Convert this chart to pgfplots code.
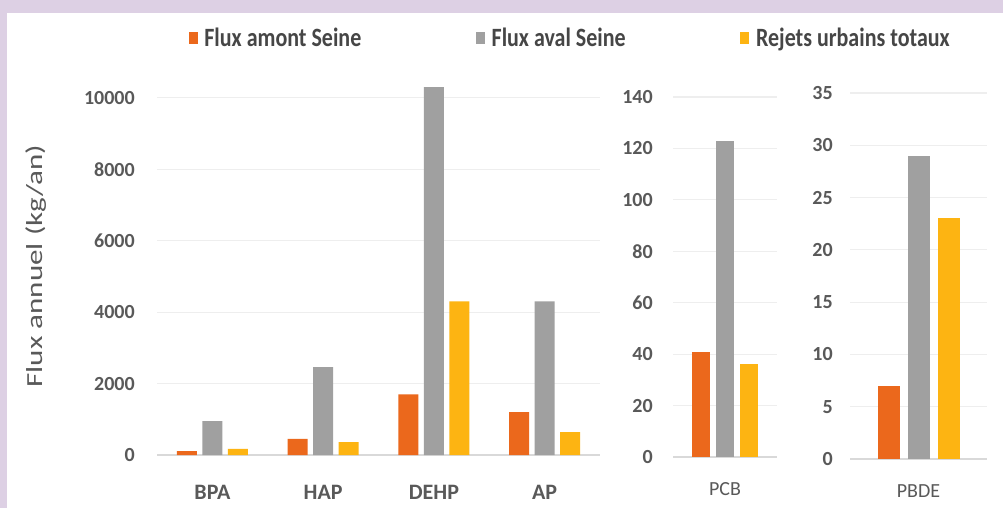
\documentclass[border=0pt]{standalone}
\usepackage{pgfplots}
\pgfplotsset{compat=1.18}
\usepackage{fontspec}
\setmainfont{Carlito}
\definecolor{cOr}{RGB}{235,104,28}
\definecolor{cGr}{RGB}{160,160,160}
\definecolor{cYe}{RGB}{253,180,18}
\definecolor{frm}{RGB}{221,208,228}
\definecolor{txt}{RGB}{89,89,89}
\definecolor{legtxt}{RGB}{70,70,70}
\definecolor{grd}{RGB}{238,238,238}
\definecolor{base}{RGB}{217,217,217}
\pgfplotsset{
  myax/.style={
    scale only axis, anchor=south west, clip=false,
    axis line style={draw=none}, tick style={draw=none},
    ymajorgrids, grid style={color=grd, line width=0.8pt},
    extra y ticks={0}, extra y tick labels={},
    extra y tick style={grid style={color=base, line width=0.9pt}},
    ymin=0, xtick=data, scaled y ticks=false,
    /pgf/number format/assume math mode=true,
    /pgf/number format/1000 sep={},
    yticklabel style={font=\bfseries\fontsize{15pt}{15pt}\selectfont, text=txt, inner sep=0pt, anchor=east},
  }
}
\begin{document}
\begin{tikzpicture}
\fill[frm] (0pt,0pt) rectangle (752.25pt,381pt);
\fill[white] (5.25pt,0pt) rectangle (752.25pt,371.25pt);

% main axis
\begin{axis}[myax,
  at={(117.75pt,39.75pt)}, width=332.25pt, height=281.25pt,
  ymax=10500, ytick={0,2000,4000,6000,8000,10000},
  xmin=-0.5, xmax=3.5,
  xticklabels={BPA,HAP,DEHP,AP},
  xticklabel style={font=\bfseries\fontsize{16.5pt}{16.5pt}\selectfont, text=txt, anchor=center, inner sep=0pt, yshift=-24pt},
  yticklabel style={xshift=-16.5pt},
  ybar=4.125pt, bar width=15pt,
  legend columns=3,
  legend image code/.code={\fill[#1] (0pt,-4.5pt) rectangle (6.75pt,4.5pt);},
  legend style={at={(axis description cs:0.071,1.112)}, anchor=west, draw=none, fill=none, inner sep=0pt,
    font=\bfseries\fontsize{16.5pt}{16.5pt}\selectfont, text=legtxt,
    /tikz/every odd column/.append style={column sep=3pt},
    /tikz/every even column/.append style={column sep=84pt}},
]
\addplot[fill=cOr, draw=none] coordinates {(0,110) (1,450) (2,1700) (3,1200)};
\addlegendentry{\scalebox{1}[1.2]{Flux amont Seine}}
\addplot[fill=cGr, draw=none] coordinates {(0,950) (1,2460) (2,10300) (3,4300)};
\addlegendentry{\scalebox{1}[1.2]{Flux aval Seine}}
\addplot[fill=cYe, draw=none] coordinates {(0,170) (1,360) (2,4300) (3,640)};
\addlegendentry{\scalebox{1}[1.2]{Rejets urbains totaux}}
\end{axis}

% PCB axis
\begin{axis}[myax,
  at={(504.75pt,38.25pt)}, width=78pt, height=270pt,
  ymax=140, ytick={0,20,40,60,80,100,120,140},
  xmin=-0.5, xmax=0.5,
  xticklabels={PCB},
  xticklabel style={font=\fontsize{15pt}{15pt}\selectfont, text=txt, anchor=center, inner sep=0pt, yshift=-19.5pt},
  yticklabel style={xshift=-15pt},
  ybar=4.5pt, bar width=13.5pt,
]
\addplot[fill=cOr, draw=none] coordinates {(0,41)};
\addplot[fill=cGr, draw=none] coordinates {(0,123)};
\addplot[fill=cYe, draw=none] coordinates {(0,36)};
\end{axis}

% PBDE axis
\begin{axis}[myax,
  at={(637.5pt,36.75pt)}, width=102.75pt, height=274.5pt,
  ymax=35, ytick={0,5,10,15,20,25,30,35},
  xmin=-0.5, xmax=0.5,
  xticklabels={PBDE},
  xticklabel style={font=\fontsize{15pt}{15pt}\selectfont, text=txt, anchor=center, inner sep=0pt, yshift=-19.5pt},
  yticklabel style={xshift=-12.75pt},
  ybar=6pt, bar width=16.5pt,
]
\addplot[fill=cOr, draw=none] coordinates {(0,7)};
\addplot[fill=cGr, draw=none] coordinates {(0,29)};
\addplot[fill=cYe, draw=none] coordinates {(0,23)};
\end{axis}

\node[rotate=90, font=\fontsize{17.25pt}{17.25pt}\selectfont, text=txt, inner sep=0pt] at (27pt,181.5pt) {\scalebox{1.35}[1]{Flux annuel (kg/an)}};
\end{tikzpicture}
\end{document}
